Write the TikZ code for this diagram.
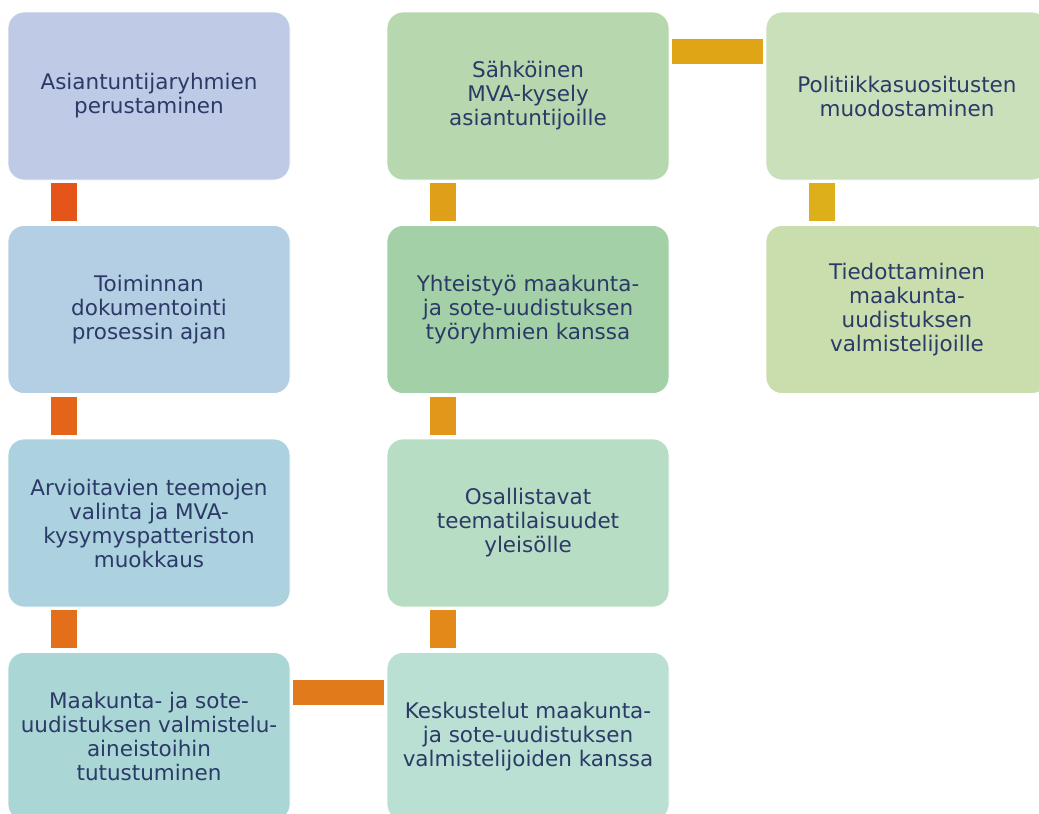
\documentclass[tikz,border=0pt]{standalone}
\usepackage{fontspec}
\setmainfont{DejaVu Sans}
\usepackage{xcolor}
\usetikzlibrary{positioning}

\definecolor{txtblue}{HTML}{2B3A67}
\definecolor{boxAa}{HTML}{BFCAE6}
\definecolor{boxAb}{HTML}{B4CEE3}
\definecolor{boxAc}{HTML}{ACD1DF}
\definecolor{boxAd}{HTML}{AAD6D5}
\definecolor{boxBa}{HTML}{B7D7AE}
\definecolor{boxBb}{HTML}{A3D0A6}
\definecolor{boxBc}{HTML}{B7DDC5}
\definecolor{boxBd}{HTML}{BADFD3}
\definecolor{boxCa}{HTML}{CAE0BA}
\definecolor{boxCb}{HTML}{C9DDAD}
\definecolor{linka}{HTML}{E55419}
\definecolor{linkb}{HTML}{E46419}
\definecolor{linkc}{HTML}{E36F1B}
\definecolor{linkd}{HTML}{E17A1B}
\definecolor{linke}{HTML}{E3891A}
\definecolor{linkf}{HTML}{E2961A}
\definecolor{linkg}{HTML}{E09F18}
\definecolor{linkh}{HTML}{E0A417}
\definecolor{linki}{HTML}{DDAF1A}

\tikzset{
  stage/.style={rectangle, rounded corners=16pt, minimum width=282pt,
    minimum height=168pt, inner sep=0pt, align=center, text=txtblue,
    draw=white, line width=0.8pt,
    font=\fontsize{21.5}{24}\selectfont},
  bar/.style={line width=26pt, shorten <=3pt, shorten >=4pt},
  barup/.style={line width=26pt, shorten <=4pt, shorten >=3pt},
  hbar/.style={line width=25pt, shorten <=3pt, shorten >=3pt}
}

\begin{document}
\begin{tikzpicture}[x=1pt, y=-1pt, node distance=213.5pt and 379pt, on grid]

  \useasboundingbox (0,0) rectangle (1039,814);

  \node[stage, fill=boxAa] (A1) at (149,96) {Asiantuntijaryhmien\\perustaminen};
  \node[stage, fill=boxAb] (A2) [below=of A1] {Toiminnan\\dokumentointi\\prosessin ajan};
  \node[stage, fill=boxAc] (A3) [below=of A2] {Arvioitavien teemojen\\valinta ja MVA-\\kysymyspatteriston\\muokkaus};
  \node[stage, fill=boxAd] (A4) [below=of A3] {Maakunta- ja sote-\\uudistuksen valmistelu-\\aineistoihin\\tutustuminen};

  \node[stage, fill=boxBd] (B4) [right=of A4] {Keskustelut maakunta-\\ja sote-uudistuksen\\valmistelijoiden kanssa};
  \node[stage, fill=boxBc] (B3) [above=of B4] {Osallistavat\\teematilaisuudet\\yleisölle};
  \node[stage, fill=boxBb] (B2) [above=of B3] {Yhteistyö maakunta-\\ja sote-uudistuksen\\työryhmien kanssa};
  \node[stage, fill=boxBa] (B1) [above=of B2] {Sähköinen\\MVA-kysely\\asiantuntijoille};

  \node[stage, fill=boxCa] (C1) [right=of B1] {Politiikkasuositusten\\muodostaminen};
  \node[stage, fill=boxCb] (C2) [below=of C1] {Tiedottaminen\\maakunta-\\uudistuksen\\valmistelijoille};

  % connecting bars
  \draw[bar, linka] ([xshift=-85pt]A1.south) -- ([xshift=-85pt]A2.north);
  \draw[bar, linkb] ([xshift=-85pt]A2.south) -- ([xshift=-85pt]A3.north);
  \draw[bar, linkc] ([xshift=-85pt]A3.south) -- ([xshift=-85pt]A4.north);
  \draw[hbar, linkd] ([yshift=44.5pt]A4.east) -- ([yshift=44.5pt]B4.west);
  \draw[barup, linke] ([xshift=-85pt]B4.north) -- ([xshift=-85pt]B3.south);
  \draw[barup, linkf] ([xshift=-85pt]B3.north) -- ([xshift=-85pt]B2.south);
  \draw[barup, linkg] ([xshift=-85pt]B2.north) -- ([xshift=-85pt]B1.south);
  \draw[hbar, linkh] ([yshift=44.5pt]B1.east) -- ([yshift=44.5pt]C1.west);
  \draw[bar, linki] ([xshift=-85pt]C1.south) -- ([xshift=-85pt]C2.north);

\end{tikzpicture}
\end{document}
